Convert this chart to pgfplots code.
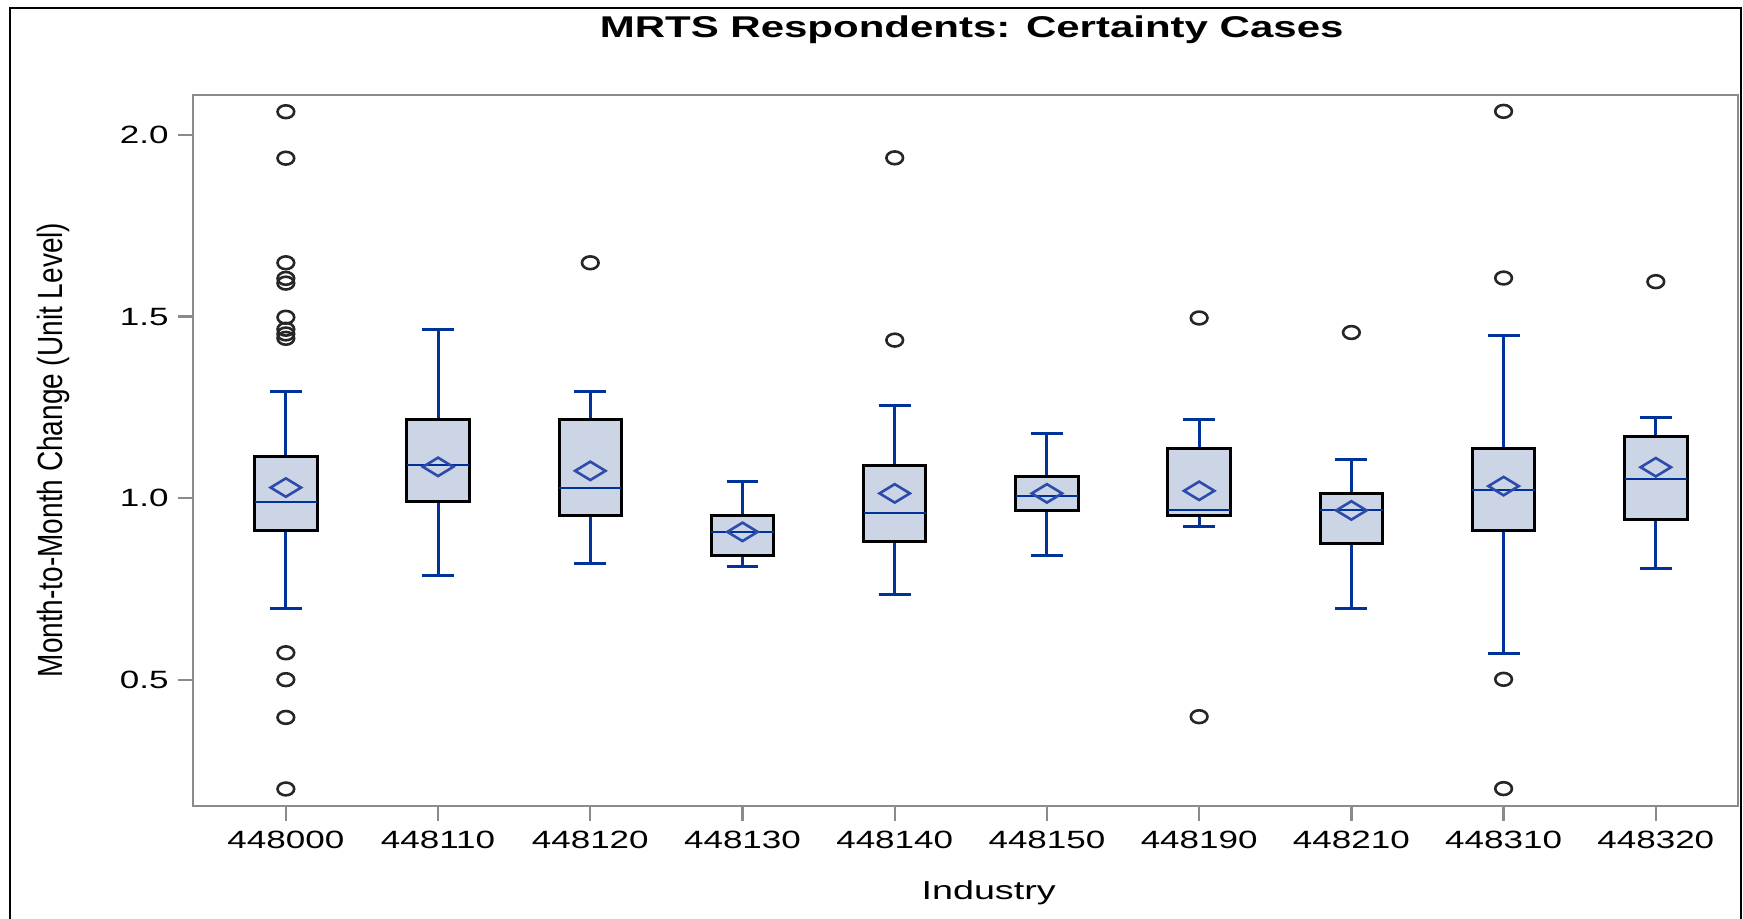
\documentclass[border=0pt]{standalone}
\usepackage{pgfplots}
\pgfplotsset{compat=1.18}
\usepgfplotslibrary{statistics}
\usepackage{fontspec}
\setmainfont{Liberation Sans}
\definecolor{sasblue}{RGB}{0,51,153}
\definecolor{boxfill}{RGB}{203,213,229}
\definecolor{spine}{RGB}{137,140,143}
\definecolor{meanblue}{RGB}{45,75,170}
\newcommand\sx[1]{\scalebox{1.4}[1]{#1}}
\pgfplotsset{
 boxplot/draw direction=y,
 boxplot/every box/.style={draw=black,line width=1.5pt,fill=boxfill},
 boxplot/every whisker/.style={draw=sasblue,line width=1.5pt},
 boxplot/every median/.style={draw=sasblue,line width=1pt},
}
\begin{document}
\begin{tikzpicture}[x=1pt,y=1pt]
\useasboundingbox (0,0) rectangle (871.5,-459);
\begin{axis}[
 at={(96.5pt,-403pt)}, anchor=south west,
 scale only axis, width=772.5pt, height=355.5pt,
 xmin=-0.61, xmax=9.54, ymin=0.152, ymax=2.11,
 axis line style={spine, line width=1.15pt},
 tick style={spine, line width=1.15pt},
 tick align=outside, tick pos=left, major tick length=7.5pt,
 /pgf/number format/assume math mode=true,
 xtick={0,...,9},
 xticklabels={\sx{448000},\sx{448110},\sx{448120},\sx{448130},\sx{448140},\sx{448150},\sx{448190},\sx{448210},\sx{448310},\sx{448320}},
 ytick={0.5,1,1.5,2},
 yticklabel={\sx{\pgfmathprintnumber[fixed,fixed zerofill,precision=1]{\tick}}},
 ticklabel style={font=\fontsize{12.5}{14}\selectfont, inner sep=0pt},
 xticklabel style={anchor=north, yshift=-5pt},
 yticklabel style={anchor=east, xshift=-4.5pt},
 title={\sx{MRTS Respondents: Certainty Cases}},
 title style={font=\bfseries\fontsize{15}{18}\selectfont, at={(axis description cs:0.504,1.0646)}, anchor=base, inner sep=0pt},
 xlabel={\scalebox{1.45}[1]{Industry}},
 xlabel style={font=\fontsize{13}{15}\selectfont, at={(axis description cs:0.515,-0.132)}, anchor=base, inner sep=0pt},
 ylabel={\scalebox{1}[1.25]{Month-to-Month Change (Unit Level)}},
 ylabel style={font=\fontsize{14}{16}\selectfont, at={(axis description cs:-0.0906,0.5007)}, anchor=center, inner sep=0pt},
]
% outliers
\addplot[only marks, mark=o, mark size=3.2pt, mark options={xscale=1.3, draw=black!85, line width=1.3pt}] coordinates {
 (0,2.064) (0,1.936) (0,1.648) (0,1.605) (0,1.592) (0,1.498) (0,1.465) (0,1.452) (0,1.440)
 (0,0.574) (0,0.500) (0,0.396) (0,0.199)
 (2,1.648)
 (4,1.937) (4,1.435)
 (6,1.496) (6,0.398)
 (7,1.456)
 (8,2.065) (8,1.606) (8,0.501) (8,0.200)
 (9,1.596)
};
% boxes
\addplot[boxplot prepared={draw position=0, lower whisker=0.695, lower quartile=0.912, median=0.990, upper quartile=1.114, upper whisker=1.294, box extend=0.41, whisker extend=0.21}] coordinates {};
\addplot[boxplot prepared={draw position=1, lower whisker=0.788, lower quartile=0.990, median=1.091, upper quartile=1.217, upper whisker=1.465, box extend=0.41, whisker extend=0.21}] coordinates {};
\addplot[boxplot prepared={draw position=2, lower whisker=0.820, lower quartile=0.953, median=1.029, upper quartile=1.217, upper whisker=1.294, box extend=0.41, whisker extend=0.21}] coordinates {};
\addplot[boxplot prepared={draw position=3, lower whisker=0.812, lower quartile=0.843, median=0.906, upper quartile=0.953, upper whisker=1.045, box extend=0.41, whisker extend=0.21}] coordinates {};
\addplot[boxplot prepared={draw position=4, lower whisker=0.735, lower quartile=0.880, median=0.959, upper quartile=1.091, upper whisker=1.255, box extend=0.41, whisker extend=0.21}] coordinates {};
\addplot[boxplot prepared={draw position=5, lower whisker=0.842, lower quartile=0.967, median=1.006, upper quartile=1.059, upper whisker=1.177, box extend=0.41, whisker extend=0.21}] coordinates {};
\addplot[boxplot prepared={draw position=6, lower whisker=0.921, lower quartile=0.953, median=0.966, upper quartile=1.137, upper whisker=1.217, box extend=0.41, whisker extend=0.21}] coordinates {};
\addplot[boxplot prepared={draw position=7, lower whisker=0.695, lower quartile=0.875, median=0.966, upper quartile=1.012, upper whisker=1.107, box extend=0.41, whisker extend=0.21}] coordinates {};
\addplot[boxplot prepared={draw position=8, lower whisker=0.571, lower quartile=0.912, median=1.022, upper quartile=1.137, upper whisker=1.448, box extend=0.41, whisker extend=0.21}] coordinates {};
\addplot[boxplot prepared={draw position=9, lower whisker=0.806, lower quartile=0.940, median=1.053, upper quartile=1.169, upper whisker=1.222, box extend=0.41, whisker extend=0.21}] coordinates {};
% means
\addplot[only marks, mark=diamond, mark size=4.6pt, mark options={xscale=2.2, draw=meanblue, line width=1.3pt}] coordinates {
 (0,1.029) (1,1.086) (2,1.075) (3,0.907) (4,1.013) (5,1.013) (6,1.020) (7,0.966) (8,1.033) (9,1.085)
};
\end{axis}
\draw[line width=1pt] (5,-470) -- (5,-3.75) -- (870.5,-3.75) -- (870.5,-470);
\end{tikzpicture}
\end{document}
